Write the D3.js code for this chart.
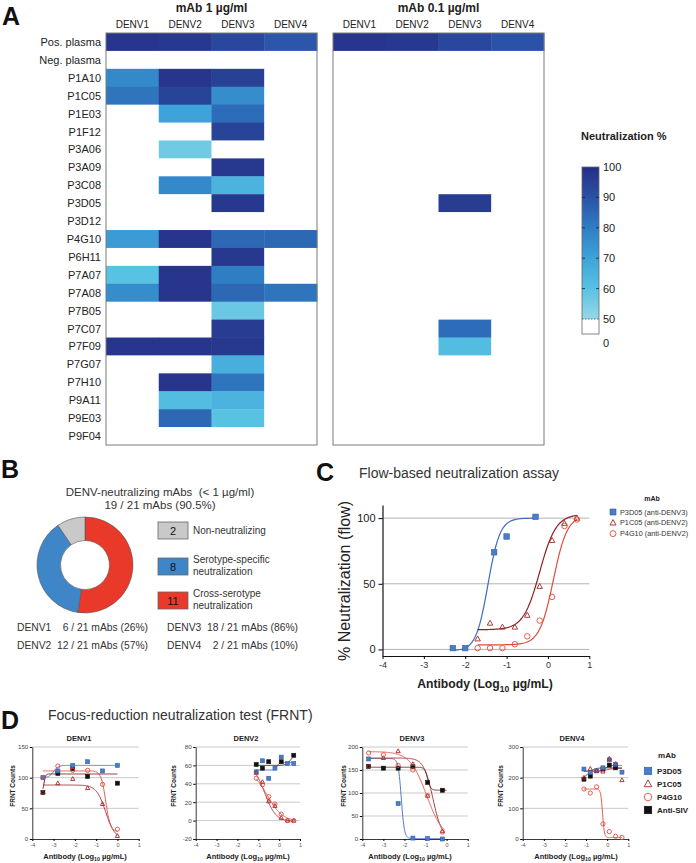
<!DOCTYPE html>
<html><head><meta charset="utf-8">
<script src="https://cdn.jsdelivr.net/npm/d3@7"></script>
<style>body{margin:0;background:#fff;} svg{display:block;font-family:"Liberation Sans",Arial,Helvetica,sans-serif;} text{white-space:pre;}</style>
</head><body><svg id="fig" width="696" height="863"></svg>
<script>
// ---------------- DATA ----------------
const heatRows = ["Pos. plasma","Neg. plasma","P1A10","P1C05","P1E03","P1F12","P3A06","P3A09","P3C08","P3D05","P3D12","P4G10","P6H11","P7A07","P7A08","P7B05","P7C07","P7F09","P7G07","P7H10","P9A11","P9E03","P9F04"];
const heatCols = ["DENV1","DENV2","DENV3","DENV4"];
// % neutralization at 1 µg/ml (values < 50 shown white)
const neut1ug = [
  [98,97,93,89],[0,0,0,0],[77,98,95,0],[82,94,76,0],[0,70,84,0],[0,0,94,0],[0,56,0,0],[0,0,97,0],
  [0,77,65,0],[0,0,97,0],[0,0,0,0],[72,98,85,85],[0,0,97,0],[60,98,80,0],[76,98,85,82],[0,0,57,0],
  [0,0,96,0],[98,98,97,0],[0,0,66,0],[0,98,82,0],[0,62,65,0],[0,85,60,0],[0,0,0,0]
];
// % neutralization at 0.1 µg/ml
const neut01ug = [
  [98,97,93,90],[0,0,0,0],[0,0,0,0],[0,0,0,0],[0,0,0,0],[0,0,0,0],[0,0,0,0],[0,0,0,0],
  [0,0,0,0],[0,0,96,0],[0,0,0,0],[0,0,0,0],[0,0,0,0],[0,0,0,0],[0,0,0,0],[0,0,0,0],
  [0,0,84,0],[0,0,62,0],[0,0,0,0],[0,0,0,0],[0,0,0,0],[0,0,0,0],[0,0,0,0]
];
const colorbarTicks = [100,90,80,70,60,50,0];

const pieLabels = ["Cross-serotype neutralization","Serotype-specific neutralization","Non-neutralizing"];
const pieCounts = [11,8,2];
const serotypeNames = ["DENV1","DENV2","DENV3","DENV4"];
const serotypeCounts = ["6 / 21 mAbs (26%)","12 / 21 mAbs (57%)","18 / 21 mAbs (86%)","2 / 21 mAbs (10%)"];

// Panel C: flow-based neutralization (log10 µg/mL, %)
const flowP3D05 = [[-2.3,1],[-2.0,1],[-1.3,74],[-1.0,86],[-0.3,101]];
const flowP1C05 = [[-1.7,8],[-1.4,20],[-1.1,17],[-0.8,17],[-0.5,26],[-0.2,48],[0.1,83],[0.4,96],[0.7,100]];
const flowP4G10 = [[-1.7,1],[-1.4,1],[-1.1,1],[-0.8,4],[-0.5,10],[-0.2,22],[0.1,40],[0.4,94],[0.7,99]];
// 4-parameter fits: [bottom, top, logEC50, hill, xFrom, xTo]
const flowFits = [[-1,100,-1.45,3,-2.3,-0.3],[15,103,-0.2,2.2,-1.7,0.7],[3.5,102,0.13,2.6,-1.7,0.7]];
const flowLegend = ["P3D05 (anti-DENV3)","P1C05 (anti-DENV2)","P4G10 (anti-DENV2)"];

// Panel D: FRNT counts
const frnt1_P3D05 = [[-3.5,100],[-2.8,111],[-2.1,120],[-1.4,126],[-0.7,111],[0,120]];
const frnt1_P1C05 = [[-3.5,76],[-2.8,91],[-2.1,98],[-1.4,83],[-0.7,57],[0,5]];
const frnt1_P4G10 = [[-3.5,100],[-2.8,119],[-2.1,112],[-1.4,112],[-0.7,89],[0,16]];
const frnt1_SIV   = [[-3.5,76],[-2.8,107],[-2.1,115],[-1.4,102],[0,91]];
const frnt1_fits  = [[100,120,-3.0,4,-3.5,0],[0,88,-0.55,-2,-3.5,0],[12,111,-0.55,-4,-3.5,0],[76,106,-3.45,12,-3.5,0]];

const frnt2_P3D05 = [[-1.1,53],[-0.8,65],[-0.5,46],[-0.2,57],[0.1,69],[0.4,62],[0.7,62]];
const frnt2_P1C05 = [[-1.1,52],[-0.8,42],[-0.5,21],[-0.2,16],[0.1,3],[0.4,0],[0.7,0]];
const frnt2_P4G10 = [[-1.1,46],[-0.8,39],[-0.5,26],[-0.2,18],[0.1,7],[0.4,0],[0.7,0]];
const frnt2_SIV   = [[-1.1,61],[-0.8,57],[-0.5,64],[0.1,64],[0.7,71]];
const frnt2_fits  = [[55,63,-0.1,8,-1.1,0.7],[-1,62,-0.7,-1.6,-1.1,0.7],[-1,55,-0.55,-1.2,-1.1,0.7],[60,72,0.55,4,-1.1,0.7]];

const frnt3_P3D05 = [[-3.7,174],[-2.3,77],[-1.6,2],[-0.9,1],[-0.2,0]];
const frnt3_P1C05 = [[-3.7,158],[-3.0,176],[-2.3,191],[-1.6,163],[-0.9,94],[-0.2,17]];
const frnt3_P4G10 = [[-3.7,187],[-3.0,183],[-2.3,160],[-1.6,150],[-0.9,94],[-0.2,15]];
const frnt3_SIV   = [[-3.7,158],[-3.0,154],[-2.3,154],[-1.6,157],[-0.9,123],[-0.2,106]];
const frnt3_fits  = [[1,175,-2.15,-6,-3.7,-0.2],[0,176,-0.65,-2,-3.7,-0.1],[0,190,-0.95,-1.1,-3.7,-0.1],[106,156,-0.9,-6,-3.7,0]];

const frnt4_P3D05 = [[-1.1,228],[-0.8,217],[-0.5,222],[-0.2,232],[0.1,258],[0.4,243],[0.7,218]];
const frnt4_P1C05 = [[-1.1,200],[-0.8,229],[-0.5,222],[-0.2,220],[0.1,262],[0.4,245],[0.7,192]];
const frnt4_P4G10 = [[-1.1,163],[-0.8,150],[-0.5,170],[-0.2,49],[0.1,24],[0.4,9],[0.7,5]];
const frnt4_SIV   = [[-1.1,195],[-0.8,205],[-0.2,228],[0.1,241],[0.4,232]];
const frnt4_fits  = [[220,240,-0.1,5,-1.1,0.7],[222,230,0,3,-1.1,0.7],[5,163,-0.22,-10,-1.1,0.7],[195,232,-0.9,3,-1.1,0.7]];

const frntLegend = ["P3D05","P1C05","P4G10","Anti-SIV"];
const logTicks = [-4,-3,-2,-1,0,1];

// ---------------- STYLE ----------------
const heatColor = d3.scaleLinear().domain([50,60,70,80,90,100])
  .range(["#97d7e6","#58c2e3","#3ea3d9","#2f7ec4","#2a52a6","#262e85"]);
const pieColors = ["#e8392b","#3f86c8","#c9c9c9"];
const cBlue = "#4a7ec4", cBlueLine = "#3d6dbd", cDark = "#9e2a2a", cRed = "#e5493a", cSIVLine = "#6e1c1c";
const TXT = "#222";
const intFmt = d => String(d);

const svg = d3.select("#fig");

function text(g, x, y, s, o = {}) {
  return g.append("text").attr("x", x).attr("y", y)
    .attr("font-size", o.size || 11).attr("font-weight", o.bold ? "bold" : "normal")
    .attr("text-anchor", o.anchor || "start").attr("fill", o.fill || TXT)
    .attr("xml:space", "preserve")
    .attr("transform", o.rotate ? `rotate(${o.rotate},${x},${y})` : null)
    .text(s);
}
function antibodyLabel(g, x, y, size) {
  const t = g.append("text").attr("x", x).attr("y", y).attr("text-anchor", "middle")
    .attr("font-size", size).attr("font-weight", "bold").attr("fill", TXT);
  t.append("tspan").text("Antibody (Log");
  t.append("tspan").attr("font-size", size * 0.7).attr("dy", size * 0.3).text("10");
  t.append("tspan").attr("dy", -size * 0.3).text(" µg/mL)");
}
function fourPL(p, x) { return p[0] + (p[1] - p[0]) / (1 + Math.pow(10, (p[2] - x) * p[3])); }
function marker(g, shape, x, y, s, fill, stroke) {
  if (shape === "square") {
    g.append("rect").attr("x", x - s / 2).attr("y", y - s / 2).attr("width", s).attr("height", s)
      .attr("fill", fill).attr("stroke", stroke).attr("stroke-width", 0.6);
  } else if (shape === "triangle") {
    const h = s * 0.9;
    g.append("path").attr("d", `M${x},${y - h * 0.6}L${x + s / 2},${y + h * 0.4}L${x - s / 2},${y + h * 0.4}Z`)
      .attr("fill", "none").attr("stroke", stroke).attr("stroke-width", 0.9);
  } else {
    g.append("circle").attr("cx", x).attr("cy", y).attr("r", s / 2)
      .attr("fill", "none").attr("stroke", stroke).attr("stroke-width", 0.9);
  }
}

// ---------------- PANEL LETTERS ----------------
text(svg, 2, 25, "A", {size: 25, bold: true, fill: "#111"});
text(svg, 1, 478, "B", {size: 25, bold: true, fill: "#111"});
text(svg, 316, 481, "C", {size: 25, bold: true, fill: "#111"});
text(svg, 1, 729, "D", {size: 25, bold: true, fill: "#111"});

// ---------------- PANEL A ----------------
function heatmap(x0, x1, title, values, showRows) {
  const g = svg.append("g");
  const x = d3.scaleBand().domain(heatCols).range([x0, x1]);
  const y = d3.scaleBand().domain(heatRows).range([33, 445]);
  heatRows.forEach((r, i) => heatCols.forEach((c, j) => {
    const v = values[i][j];
    g.append("rect").attr("x", x(c)).attr("y", y(r))
      .attr("width", x.bandwidth() + 0.4).attr("height", y.bandwidth() + 0.4)
      .attr("fill", v >= 50 ? heatColor(v) : "#fff");
  }));
  g.append("rect").attr("x", x0).attr("y", 33).attr("width", x1 - x0).attr("height", 412)
    .attr("fill", "none").attr("stroke", "#7a7a7a").attr("stroke-width", 1);
  heatCols.forEach(c => text(g, x(c) + x.bandwidth() / 2, 28, c, {size: 10, anchor: "middle"}));
  text(g, (x0 + x1) / 2, 12, title, {size: 12, bold: true, anchor: "middle"});
  if (showRows) heatRows.forEach(r => text(g, 101, y(r) + y.bandwidth() / 2 + 4, r, {size: 11, anchor: "end"}));
}
heatmap(106, 317, "mAb 1 µg/ml", neut1ug, true);
heatmap(333, 544, "mAb 0.1 µg/ml", neut01ug, false);

// colorbar
(function () {
  const g = svg.append("g");
  const cy = d3.scaleLinear().domain([0, 50, 100]).range([334, 319, 167]);
  const defs = svg.append("defs");
  const grad = defs.append("linearGradient").attr("id", "cbar").attr("x1", 0).attr("y1", 1).attr("x2", 0).attr("y2", 0);
  heatColor.domain().forEach(v => grad.append("stop").attr("offset", (v - 50) / 50).attr("stop-color", heatColor(v)));
  const bx = 582, bw = 17;
  g.append("rect").attr("x", bx).attr("y", cy(100)).attr("width", bw).attr("height", cy(50) - cy(100)).attr("fill", "url(#cbar)");
  g.append("rect").attr("x", bx).attr("y", cy(50)).attr("width", bw).attr("height", cy(0) - cy(50)).attr("fill", "#fff");
  g.append("rect").attr("x", bx).attr("y", cy(100)).attr("width", bw).attr("height", cy(0) - cy(100))
    .attr("fill", "none").attr("stroke", "#666").attr("stroke-width", 0.8);
  g.append("line").attr("x1", bx).attr("x2", bx + bw).attr("y1", cy(50)).attr("y2", cy(50))
    .attr("stroke", "#1d3a8a").attr("stroke-width", 0.8).attr("stroke-dasharray", "1.5,1.5");
  [60, 70, 80, 90].forEach(v => {
    g.append("line").attr("x1", bx).attr("x2", bx + 3).attr("y1", cy(v)).attr("y2", cy(v)).attr("stroke", "#1a1a4a").attr("stroke-width", 0.8);
    g.append("line").attr("x1", bx + bw - 3).attr("x2", bx + bw).attr("y1", cy(v)).attr("y2", cy(v)).attr("stroke", "#1a1a4a").attr("stroke-width", 0.8);
  });
  colorbarTicks.forEach(v => text(g, 603, cy(v) + 4 + (v === 0 ? 9 : 0), String(v), {size: 11}));
  text(g, 581, 140, "Neutralization %", {size: 11, bold: true});
})();

// ---------------- PANEL B ----------------
(function () {
  const g = svg.append("g");
  text(g, 160, 496, "DENV-neutralizing mAbs  (< 1 µg/ml)", {size: 11.5, anchor: "middle", fill: "#333"});
  text(g, 160, 509, "19 / 21 mAbs (90.5%)", {size: 11.5, anchor: "middle", fill: "#333"});
  const pie = d3.pie().sort(null)(pieCounts);
  const arc = d3.arc().innerRadius(24.5).outerRadius(48);
  const pg = g.append("g").attr("transform", "translate(85,565)");
  pg.selectAll("path").data(pie).join("path").attr("d", arc)
    .attr("fill", (d, i) => pieColors[i]).attr("stroke", "#555").attr("stroke-width", 0.6);
  // legend (displayed top to bottom: non, serotype, cross)
  const order = [2, 1, 0];
  const boxY = [522, 558, 592];
  const lines = [["Non-neutralizing"], ["Serotype-specific", "neutralization"], ["Cross-serotype", "neutralization"]];
  order.forEach((k, i) => {
    g.append("rect").attr("x", 158).attr("y", boxY[i]).attr("width", 30).attr("height", 17)
      .attr("fill", pieColors[k]).attr("stroke", "#666").attr("stroke-width", 0.8);
    text(g, 173, boxY[i] + 12.5, String(pieCounts[k]), {size: 11, anchor: "middle", fill: "#111"});
    const ls = lines[i];
    if (ls.length === 1) text(g, 193, boxY[i] + 12, ls[0], {size: 10, fill: "#333"});
    else { text(g, 193, boxY[i] + 5, ls[0], {size: 10, fill: "#333"}); text(g, 193, boxY[i] + 17, ls[1], {size: 10, fill: "#333"}); }
  });
  serotypeNames.forEach((n, i) => {
    const col = i < 2 ? 0 : 1, row = i % 2;
    const lx = col === 0 ? 17 : 167, rx = col === 0 ? 148 : 298;
    const yy = 631 + row * 18;
    text(g, lx, yy, n, {size: 10.3, fill: "#333"});
    text(g, rx, yy, serotypeCounts[i], {size: 10.3, anchor: "end", fill: "#333"});
  });
})();

// ---------------- PANEL C ----------------
(function () {
  const g = svg.append("g");
  text(g, 359, 478, "Flow-based neutralization assay", {size: 14, fill: "#333"});
  const x = d3.scaleLinear().domain([-4, 1]).range([382.5, 589.3]);
  const y = d3.scaleLinear().domain([-5, 110]).range([656, 505]);
  [0, 50, 100].forEach(v => g.append("line").attr("x1", x(-4)).attr("x2", x(1)).attr("y1", y(v)).attr("y2", y(v))
    .attr("stroke", "#aaa").attr("stroke-width", 0.9));
  const ax = g.append("g").attr("transform", `translate(0,${y(-5)})`)
    .call(d3.axisBottom(x).tickValues(logTicks).tickFormat(intFmt).tickSize(3).tickSizeOuter(0));
  ax.select(".domain").attr("stroke", "#111").attr("stroke-width", 1.2);
  ax.selectAll("text").attr("font-size", 9).attr("fill", "#333").attr("font-family", null);
  const ay = g.append("g").attr("transform", `translate(${x(-4)},0)`)
    .call(d3.axisLeft(y).tickValues([0, 50, 100]).tickFormat(intFmt).tickSize(4).tickSizeOuter(0));
  ay.select(".domain").attr("stroke", "#111").attr("stroke-width", 1.2);
  ay.selectAll("text").attr("font-size", 11).attr("fill", "#222").attr("font-family", null);
  text(g, 350, 581, "% Neutralization (flow)", {size: 16, anchor: "middle", rotate: -90});
  antibodyLabel(g, 485, 688, 12.2);

  const series = [flowP3D05, flowP1C05, flowP4G10];
  const lineCols = [cBlueLine, "#8b2020", cRed];
  const line = d3.line().x(d => x(d[0])).y(d => y(d[1]));
  flowFits.forEach((p, i) => {
    const xs = d3.range(p[4], p[5] + 1e-9, 0.02);
    g.append("path").attr("d", line(xs.map(v => [v, fourPL(p, v)]))).attr("fill", "none")
      .attr("stroke", lineCols[i]).attr("stroke-width", 1.2);
  });
  series[0].forEach(d => marker(g, "square", x(d[0]), y(d[1]), 5.5, cBlue, "#2f5fa8"));
  series[1].forEach(d => marker(g, "triangle", x(d[0]), y(d[1]), 5.5, "none", cDark));
  series[2].forEach(d => marker(g, "circle", x(d[0]), y(d[1]), 5.5, "none", cRed));
  // legend
  text(g, 652, 501, "mAb", {size: 7, bold: true, anchor: "middle"});
  const shapes = [["square", cBlue, "#2f5fa8"], ["triangle", "none", cDark], ["circle", "none", cRed]];
  flowLegend.forEach((s, i) => {
    const yy = 512 + i * 10.8;
    marker(g, shapes[i][0], 613, yy, 6, shapes[i][1], shapes[i][2]);
    text(g, 620, yy + 2.6, s, {size: 7.3, fill: "#333"});
  });
})();

// ---------------- PANEL D ----------------
text(svg, 48, 720, "Focus-reduction neutralization test (FRNT)", {size: 14, fill: "#333"});
function frntPlot(cfg) {
  const g = svg.append("g");
  const x = d3.scaleLinear().domain([-4, 1]).range([cfg.x0, cfg.x1]);
  const y = d3.scaleLinear().domain(cfg.yDomain).range([839, 747]);
  cfg.yTicks.slice(1).forEach(v => g.append("line").attr("x1", x(-4)).attr("x2", x(1)).attr("y1", y(v)).attr("y2", y(v))
    .attr("stroke", "#bbb").attr("stroke-width", 0.8));
  const ax = g.append("g").attr("transform", `translate(0,${y(cfg.yDomain[0])})`)
    .call(d3.axisBottom(x).tickValues(logTicks).tickFormat(intFmt).tickSize(2).tickSizeOuter(0).tickPadding(2));
  ax.select(".domain").attr("stroke", "#222").attr("stroke-width", 0.9);
  ax.selectAll("text").attr("font-size", 5.5).attr("fill", "#555").attr("font-family", null);
  const ay = g.append("g").attr("transform", `translate(${x(-4)},0)`)
    .call(d3.axisLeft(y).tickValues(cfg.yTicks).tickFormat(intFmt).tickSize(2.5).tickSizeOuter(0).tickPadding(1.5));
  ay.select(".domain").attr("stroke", "#222").attr("stroke-width", 0.9);
  ay.selectAll("text").attr("font-size", 6.2).attr("fill", "#444").attr("font-family", null);
  text(g, cfg.titleX, 741, cfg.title, {size: 7.5, bold: true, anchor: "middle"});
  text(g, cfg.yTitleX, 786, "FRNT Counts", {size: 6.5, bold: true, anchor: "middle", rotate: -90});
  antibodyLabel(g, cfg.xTitleX, 859, 7.5);
  const line = d3.line().x(d => x(d[0])).y(d => y(d[1]));
  const lineCols = [cBlueLine, cDark, cRed, cSIVLine];
  cfg.fits.forEach((p, i) => {
    const xs = d3.range(p[4], p[5] + 1e-9, 0.02);
    g.append("path").attr("d", line(xs.map(v => [v, fourPL(p, v)]))).attr("fill", "none")
      .attr("stroke", lineCols[i]).attr("stroke-width", 0.9);
  });
  cfg.series[3].forEach(d => marker(g, "square", x(d[0]), y(d[1]), 4, "#111", "#111"));
  cfg.series[0].forEach(d => marker(g, "square", x(d[0]), y(d[1]), 4, cBlue, "#2f5fa8"));
  cfg.series[1].forEach(d => marker(g, "triangle", x(d[0]), y(d[1]), 4.2, "none", cDark));
  cfg.series[2].forEach(d => marker(g, "circle", x(d[0]), y(d[1]), 4.2, "none", cRed));
}
frntPlot({x0: 32.3, x1: 138.7, yDomain: [0, 150], yTicks: [0, 50, 100, 150], title: "DENV1", titleX: 79, yTitleX: 15, xTitleX: 85,
  series: [frnt1_P3D05, frnt1_P1C05, frnt1_P4G10, frnt1_SIV], fits: frnt1_fits});
frntPlot({x0: 195.7, x1: 300, yDomain: [-20, 80], yTicks: [-20, 0, 20, 40, 60, 80], title: "DENV2", titleX: 246, yTitleX: 176, xTitleX: 248,
  series: [frnt2_P3D05, frnt2_P1C05, frnt2_P4G10, frnt2_SIV], fits: frnt2_fits});
frntPlot({x0: 362.3, x1: 467.7, yDomain: [0, 200], yTicks: [0, 50, 100, 150, 200], title: "DENV3", titleX: 412, yTitleX: 346, xTitleX: 410,
  series: [frnt3_P3D05, frnt3_P1C05, frnt3_P4G10, frnt3_SIV], fits: frnt3_fits});
frntPlot({x0: 522.7, x1: 628.3, yDomain: [0, 300], yTicks: [0, 100, 200, 300], title: "DENV4", titleX: 572, yTitleX: 503, xTitleX: 576,
  series: [frnt4_P3D05, frnt4_P1C05, frnt4_P4G10, frnt4_SIV], fits: frnt4_fits});

// D legend
(function () {
  const g = svg.append("g");
  text(g, 667, 758, "mAb", {size: 8, bold: true, anchor: "middle"});
  const shapes = [["square", cBlue, "#2f5fa8"], ["triangle", "none", cDark], ["circle", "none", cRed], ["square", "#111", "#111"]];
  frntLegend.forEach((s, i) => {
    const yy = 771 + i * 13;
    marker(g, shapes[i][0], 648, yy, 7.5, shapes[i][1], shapes[i][2]);
    text(g, 657, yy + 3, s, {size: 8, bold: true});
  });
})();
</script>
</body></html>
